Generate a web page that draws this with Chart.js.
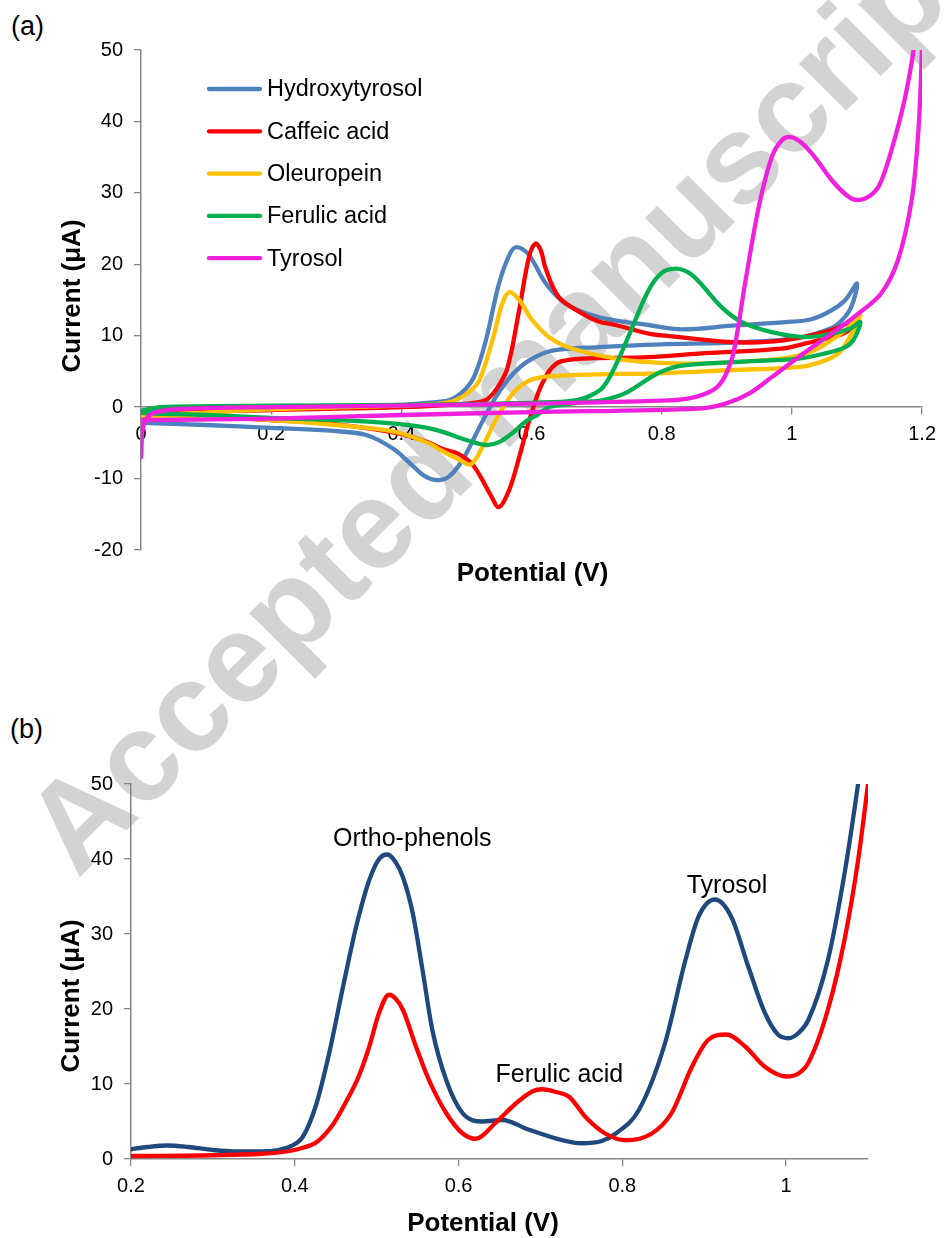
<!DOCTYPE html>
<html>
<head>
<meta charset="utf-8">
<script src="https://cdn.jsdelivr.net/npm/chart.js@4.4.1/dist/chart.umd.min.js"></script>
<style>
  html, body { margin: 0; padding: 0; background: #fff; }
  #page { position: relative; width: 944px; height: 1238px; overflow: hidden; }
  .wm { position: absolute; left: 500px; top: 396px; transform: translate(-50%, -50%) rotate(-45deg);
        font: bold 126px "Liberation Sans", Arial, sans-serif; color: #d3d3d3; white-space: nowrap; line-height: 1; }
  .panel { position: absolute; font: 27px "Liberation Sans", Arial, sans-serif; line-height: 1; color: #000; }
  canvas { position: absolute; left: 0; }
</style>
</head>
<body>
<div id="page">
  <div class="wm">Accepted manuscript</div>
  <div class="panel" style="left:11px; top:13px">(a)</div>
  <div class="panel" style="left:10px; top:716px">(b)</div>
  <canvas id="cvA" width="944" height="600" style="top:0"></canvas>
  <canvas id="cvB" width="944" height="638" style="top:600px"></canvas>
</div>
<script>
// (a) cyclic voltammograms: potential (V) / current (uA), forward scan then reverse scan
const hydroxytyrosolE = [0, 0.02, 0.1, 0.2, 0.3, 0.4, 0.44, 0.474, 0.495, 0.512, 0.53, 0.55, 0.568, 0.578, 0.596, 0.622, 0.652, 0.703, 0.78, 0.831, 0.908, 0.99, 1.03, 1.06, 1.082, 1.1,
  1.09, 1.07, 1.05, 1.02, 0.984, 0.9, 0.8, 0.703, 0.632, 0.596, 0.57, 0.545, 0.52, 0.494, 0.472, 0.453, 0.435, 0.415, 0.387, 0.346, 0.29, 0.2, 0.1, 0];
const hydroxytyrosolI = [-1.0, -0.4, -0.1, 0, 0.1, 0.3, 0.6, 1.0, 2.2, 4.3, 9.4, 17.3, 21.7, 22.4, 21.3, 17.3, 14.5, 12.6, 11.5, 10.9, 11.4, 11.9, 12.3, 13.5, 15.0, 17.3,
  13.8, 11.6, 10.7, 9.9, 9.4, 9.0, 8.8, 8.4, 7.9, 6.5, 4.5, 1.4, -2.8, -7.4, -9.8, -10.2, -9.6, -8.0, -5.8, -3.9, -3.3, -2.9, -2.5, -2.2];

const caffeicE = [0, 0.05, 0.2, 0.4, 0.5, 0.53, 0.548, 0.563, 0.581, 0.596, 0.606, 0.614, 0.622, 0.642, 0.678, 0.703, 0.729, 0.78, 0.806, 0.908, 0.984, 1.061, 1.102,
  1.085, 1.061, 1.02, 0.984, 0.857, 0.78, 0.678, 0.645, 0.632, 0.622, 0.611, 0.596, 0.581, 0.566, 0.55, 0.537, 0.522, 0.507, 0.487, 0.465, 0.44, 0.397, 0.3, 0.2, 0.1, 0];
const caffeicI = [-1.2, -0.8, -0.4, 0, 0.5, 1.0, 2.8, 5.5, 13.6, 21.0, 22.9, 22.0, 19.3, 15.4, 13.1, 12.0, 11.5, 10.3, 10.0, 9.1, 9.3, 10.8, 12.4,
  10.6, 9.8, 8.9, 8.2, 7.5, 7.0, 6.8, 6.4, 5.6, 4.3, 2.2, -2.0, -7.0, -11.5, -14.0, -12.3, -9.8, -7.8, -6.5, -5.9, -4.9, -3.7, -2.4, -1.8, -1.4, -1.2];

const oleuropeinE = [0, 0.2, 0.4, 0.46, 0.484, 0.505, 0.52, 0.54, 0.555, 0.566, 0.581, 0.601, 0.627, 0.662, 0.729, 0.78, 0.857, 0.984, 1.03, 1.061, 1.085, 1.105,
  1.09, 1.071, 1.04, 1.01, 0.908, 0.78, 0.703, 0.627, 0.596, 0.571, 0.545, 0.525, 0.507, 0.49, 0.46, 0.443, 0.392, 0.3, 0.2, 0.1, 0];
const oleuropeinI = [-1.2, -0.3, 0.2, 0.5, 1.0, 2.2, 3.8, 9.4, 14.5, 16.1, 15.0, 12.2, 9.8, 8.2, 6.8, 6.3, 6.1, 6.8, 7.8, 9.4, 11.0, 12.9,
  10.0, 7.5, 6.2, 5.6, 5.2, 4.7, 4.6, 4.3, 3.7, 1.9, -1.8, -5.5, -8.0, -7.4, -6.0, -5.1, -3.5, -2.5, -1.8, -1.4, -1.2];

const ferulicE = [0, 0.03, 0.2, 0.4, 0.55, 0.63, 0.67, 0.69, 0.71, 0.73, 0.754, 0.78, 0.8, 0.821, 0.84, 0.857, 0.892, 0.923, 0.969, 1.02, 1.061, 1.09, 1.105,
  1.095, 1.082, 1.05, 1.01, 0.908, 0.831, 0.8, 0.78, 0.745, 0.71, 0.678, 0.645, 0.627, 0.606, 0.591, 0.571, 0.55, 0.53, 0.5, 0.45, 0.39, 0.3, 0.2, 0.1, 0.02, 0];
const ferulicI = [-0.5, 0, 0.2, 0.3, 0.5, 0.7, 1.0, 1.6, 2.8, 6.0, 11.0, 16.4, 18.8, 19.4, 18.9, 17.6, 14.0, 11.9, 10.5, 9.8, 10.3, 11.0, 11.9,
  9.5, 8.4, 7.5, 6.8, 6.3, 5.8, 5.0, 4.0, 2.0, 1.0, 0.7, 0.3, 0, -1.2, -2.0, -3.6, -4.9, -5.3, -4.6, -3.1, -2.3, -1.8, -1.5, -1.1, -0.9, -0.8];

const tyrosolE = [0, 0.004, 0.02, 0.08, 0.3, 0.6, 0.8, 0.84, 0.865, 0.885, 0.898, 0.91, 0.928, 0.949, 0.969, 0.985, 0.998, 1.015, 1.035, 1.061, 1.085, 1.1, 1.12, 1.135, 1.153, 1.173, 1.187, 1.196,
  1.2, 1.199, 1.194, 1.184, 1.163, 1.137, 1.102, 1.061, 1.01, 0.969, 0.934, 0.898, 0.857, 0.6, 0.4, 0.2, 0.02, 0];
const tyrosolI = [-7.0, -2.5, -0.8, -0.2, 0.1, 0.5, 0.9, 1.2, 1.8, 2.8, 4.5, 7.5, 17.3, 28.0, 35.0, 37.4, 37.8, 37.0, 35.0, 31.8, 29.6, 29.0, 29.6, 31.2, 36.0, 43.0, 50.0, 57.0,
  55.0, 48.0, 38.3, 29.0, 20.6, 15.9, 13.1, 10.3, 7.0, 4.2, 1.9, 0.5, -0.2, -0.7, -1.1, -1.6, -1.8, -1.8];

const xTicksA = [0, 0.2, 0.4, 0.6, 0.8, 1, 1.2];
const yTicksA = [-20, -10, 0, 10, 20, 30, 40, 50];

// (b) differential pulse voltammograms
const dpvBlueE = [0.2, 0.22, 0.245, 0.27, 0.3, 0.33, 0.36, 0.38, 0.395, 0.41, 0.426, 0.442, 0.459, 0.475, 0.491, 0.503, 0.513, 0.523, 0.532, 0.544,
  0.556, 0.568, 0.585, 0.605, 0.629, 0.653, 0.686, 0.727, 0.75, 0.775, 0.792, 0.82, 0.852, 0.877, 0.893, 0.913, 0.933, 0.954, 0.974, 0.99,
  1.003, 1.015, 1.027, 1.051, 1.072, 1.088, 1.1];
const dpvBlueI = [1.3, 1.6, 1.8, 1.6, 1.2, 1.0, 1.0, 1.2, 1.7, 3.0, 7.2, 14.1, 23.0, 31.0, 37.2, 40.0, 40.6, 39.6, 37.6, 32.8,
  25.2, 17.2, 10.5, 6.1, 5.0, 5.2, 3.9, 2.5, 2.1, 2.4, 3.4, 6.5, 15.4, 26.5, 32.3, 34.6, 32.3, 25.6, 19.5, 16.6,
  16.1, 16.8, 18.5, 26.5, 38.5, 50.1, 60];
const dpvRedE = [0.2, 0.3, 0.36, 0.39, 0.41, 0.426, 0.446, 0.462, 0.478, 0.491, 0.503, 0.515, 0.523, 0.532, 0.548, 0.564, 0.585, 0.605, 0.621, 0.645,
  0.67, 0.69, 0.702, 0.72, 0.735, 0.755, 0.779, 0.804, 0.836, 0.86, 0.885, 0.905, 0.927, 0.95, 0.974, 1.0, 1.015, 1.027, 1.051, 1.072, 1.088, 1.1];
const dpvRedI = [0.4, 0.5, 0.7, 1.0, 1.5, 2.2, 4.5, 7.5, 11.0, 15.0, 19.5, 21.9, 21.4, 19.9, 15.0, 10.5, 6.1, 3.4, 2.7, 4.8,
  7.4, 9.0, 9.3, 8.9, 8.3, 5.6, 3.4, 2.5, 3.4, 6.1, 12.3, 15.9, 16.6, 15.0, 12.3, 11.0, 11.4, 12.8, 19.9, 29.6, 39.9, 50];

const peakNames = ['Ortho-phenols', 'Ferulic acid', 'Tyrosol'];
const peakE = [0.5435, 0.7231, 0.9278];
const peakI = [41.7, 10.3, 35.5];

const xTicksB = [0.2, 0.4, 0.6, 0.8, 1];
const yTicksB = [0, 10, 20, 30, 40, 50];

const FONT = '"Liberation Sans", Arial, sans-serif';
const axisGray = '#868686';

function pts(e, i) {
  return e.map((v, k) => ({x: v, y: i[k]}));
}

function curve(label, e, i, color, order, extra) {
  return Object.assign({
    label: label,
    data: pts(e, i),
    showLine: true,
    borderColor: color,
    backgroundColor: color,
    borderWidth: 4.3,
    pointRadius: 0,
    pointHoverRadius: 0,
    tension: 0.35,
    borderCapStyle: 'round',
    borderJoinStyle: 'round',
    order: order
  }, extra || {});
}

function fixedTicks(list) {
  return function (scale) { scale.ticks = list.map(v => ({value: v})); };
}

function axis(extra) {
  return Object.assign({
    type: 'linear',
    grid: {drawOnChartArea: false, drawTicks: true, tickLength: 7, color: axisGray, lineWidth: 1.3},
    border: {color: axisGray, width: 1.5},
    ticks: {font: {family: FONT, size: 20}, color: '#000', padding: 8, maxRotation: 0, autoSkip: false,
            callback: v => String(v)}
  }, extra);
}

// axis titles drawn by hand so they can sit where the original puts them
const axisTitles = {
  id: 'axisTitles',
  afterDraw(chart, args, o) {
    const {ctx, chartArea: a} = chart;
    ctx.save();
    ctx.font = 'bold 26px ' + FONT;
    ctx.fillStyle = '#000';
    ctx.textAlign = 'center';
    ctx.textBaseline = 'alphabetic';
    ctx.fillText(o.x, a.left + o.xAt[0], a.bottom + o.xAt[1]);
    ctx.translate(o.yAt[0], (a.top + a.bottom) / 2 + o.yAt[1]);
    ctx.rotate(-Math.PI / 2);
    ctx.fillText(o.y, 0, 0);
    ctx.restore();
  }
};

const cvLegend = {
  id: 'cvLegend',
  afterDatasetsDraw(chart, args, o) {
    const {ctx, chartArea: a} = chart;
    ctx.save();
    ctx.font = '23.5px ' + FONT;
    ctx.textAlign = 'left';
    ctx.textBaseline = 'middle';
    chart.data.datasets.forEach((ds, k) => {
      const x = a.left + o.left;
      const y = a.top + o.top + k * o.gap;
      ctx.strokeStyle = ds.borderColor;
      ctx.lineWidth = 4.3;
      ctx.lineCap = 'round';
      ctx.beginPath();
      ctx.moveTo(x + 2, y);
      ctx.lineTo(x + o.len - 2, y);
      ctx.stroke();
      ctx.fillStyle = '#000';
      ctx.fillText(ds.label, x + o.len + 5, y + 1);
    });
    ctx.restore();
  }
};

const peakText = {
  id: 'peakText',
  afterDatasetsDraw(chart) {
    const {ctx, scales} = chart;
    ctx.save();
    ctx.font = '25px ' + FONT;
    ctx.fillStyle = '#000';
    ctx.textAlign = 'center';
    ctx.textBaseline = 'alphabetic';
    peakNames.forEach((t, k) => {
      ctx.fillText(t, scales.x.getPixelForValue(peakE[k]), scales.y.getPixelForValue(peakI[k]));
    });
    ctx.restore();
  }
};

new Chart(document.getElementById('cvA'), {
  type: 'scatter',
  data: {
    datasets: [
      curve('Hydroxytyrosol', hydroxytyrosolE, hydroxytyrosolI, '#4F81BD', 5),
      curve('Caffeic acid', caffeicE, caffeicI, '#FF0000', 4),
      curve('Oleuropein', oleuropeinE, oleuropeinI, '#FFC000', 3),
      curve('Ferulic acid', ferulicE, ferulicI, '#00B050', 2),
      curve('Tyrosol', tyrosolE, tyrosolI, '#F020DC', 1)
    ]
  },
  options: {
    responsive: false,
    animation: false,
    events: [],
    layout: {padding: {left: 40, right: 20, top: 50, bottom: 50}},
    plugins: {
      legend: {display: false},
      tooltip: {enabled: false},
      cvLegend: {left: 66, top: 39, gap: 42.3, len: 55},
      axisTitles: {x: 'Potential (V)', y: 'Current (μA)', xAt: [391.5, 31], yAt: [80, -4]}
    },
    scales: {
      x: axis({min: 0, max: 1.2, position: {y: 0}, afterBuildTicks: fixedTicks(xTicksA)}),
      y: axis({min: -20, max: 50, position: 'left', afterBuildTicks: fixedTicks(yTicksA),
               afterFit: s => { s.width = 101; },
               ticks: {font: {family: FONT, size: 20}, color: '#000', padding: 11, callback: v => String(v)}})
    }
  },
  plugins: [cvLegend, axisTitles]
});

new Chart(document.getElementById('cvB'), {
  type: 'scatter',
  data: {
    datasets: [
      curve('Sample 1', dpvBlueE, dpvBlueI, '#1F497D', 2, {cubicInterpolationMode: 'monotone'}),
      curve('Sample 2', dpvRedE, dpvRedI, '#FF0000', 1, {cubicInterpolationMode: 'monotone'})
    ]
  },
  options: {
    responsive: false,
    animation: false,
    events: [],
    layout: {padding: {left: 40, right: 76, top: 184, bottom: 39}},
    plugins: {
      legend: {display: false},
      tooltip: {enabled: false},
      axisTitles: {x: 'Potential (V)', y: 'Current (μA)', xAt: [352, 72], yAt: [78.5, 24.5]}
    },
    scales: {
      x: axis({min: 0.2, max: 1.1, position: 'bottom', afterBuildTicks: fixedTicks(xTicksB),
               afterFit: s => { s.height = 40; }}),
      y: axis({min: 0, max: 50, position: 'left', afterBuildTicks: fixedTicks(yTicksB),
               afterFit: s => { s.width = 91; },
               ticks: {font: {family: FONT, size: 20}, color: '#000', padding: 11, callback: v => String(v)}})
    }
  },
  plugins: [peakText, axisTitles]
});
</script>
</body>
</html>
